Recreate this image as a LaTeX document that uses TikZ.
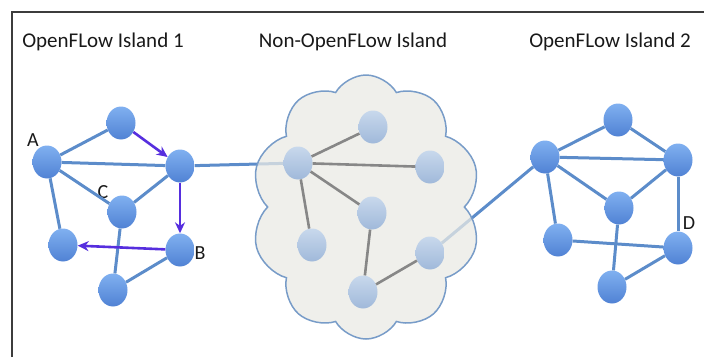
\documentclass[tikz,border=0pt]{standalone}
\usepackage{fontspec}
\setmainfont{Carlito}
\usetikzlibrary{positioning,shapes.geometric,shapes.symbols,arrows.meta}

\definecolor{swtop}{RGB}{128,176,240}
\definecolor{swbot}{RGB}{80,130,212}
\definecolor{cswtop}{RGB}{200,216,236}
\definecolor{cswbot}{RGB}{160,185,218}
\definecolor{linkblue}{RGB}{92,140,202}
\definecolor{linkgray}{RGB}{135,135,135}
\definecolor{flowpurple}{RGB}{86,46,222}
\definecolor{cloudfill}{RGB}{234,234,228}
\definecolor{cloudedge}{RGB}{120,156,200}
\definecolor{framegray}{RGB}{60,60,60}

\pgfdeclarelayer{background}
\pgfsetlayers{background,main}

\begin{document}
\begin{tikzpicture}[x=1pt, y=-1pt,
  switch/.style={ellipse, minimum width=29pt, minimum height=33pt, inner sep=0pt, top color=swtop, bottom color=swbot},
  cswitch/.style={ellipse, minimum width=29pt, minimum height=33pt, inner sep=0pt, top color=cswtop, bottom color=cswbot},
  link/.style={draw=linkblue, line width=3pt},
  glink/.style={draw=linkgray, line width=2.6pt},
  flow/.style={draw=flowpurple, line width=2.6pt, -{Stealth[length=11pt, width=10pt]}},
  title/.style={font=\fontsize{21}{24}\selectfont, text=black!90},
  lbl/.style={font=\fontsize{20}{22}\selectfont, text=black!90, inner sep=0pt}]
\useasboundingbox (0,0) rectangle (704,357);

% frame
\draw[framegray, line width=1.6pt] (12,357) -- (12,12) -- (704,12);

% titles
\node[title] (t1) at (103,42) {OpenFLow Island 1};
\node[title] (t2) at (353,42) {Non-OpenFLow Island};
\node[title] (t3) at (610,42) {OpenFLow Island 2};

% cloud
\node[cloud, cloud puffs=10, cloud puff arc=120, cloud ignores aspect, minimum width=230pt, minimum height=264pt, draw=cloudedge, line width=1.5pt, fill=cloudfill, fill opacity=0.75] (cloud) at (366,207) {};

% island 1
\node[switch] (lA) at (47,162) {};
\node[switch] (lTop) at (121,123) {};
\node[switch] (lRight) at (180,166) {};
\node[switch] (lC) at (122,212) {};
\node[switch] (lLow) at (63,245) {};
\node[switch] (lB) at (180,250) {};
\node[switch] (lBot) at (113,290) {};

% non-openflow island
\node[cswitch] (nHub) at (298,163) {};
\node[cswitch] (nTop) at (373,127) {};
\node[cswitch] (nRight) at (430,167) {};
\node[cswitch] (nMid) at (372,213) {};
\node[cswitch] (nLow) at (312,245) {};
\node[cswitch] (nBot) at (363,292) {};
\node[cswitch] (nExit) at (430,253) {};

% island 2
\node[switch] (rLeft) at (545,157) {};
\node[switch] (rTop) at (618,120) {};
\node[switch] (rRight) at (678,160) {};
\node[switch] (rMid) at (619,208) {};
\node[switch] (rLow) at (558,240) {};
\node[switch] (rD) at (678,248) {};
\node[switch] (rBot) at (612,287) {};

% labels
\node[lbl] (labA) at (33,140) {A};
\node[lbl] (labC) at (103,192) {C};
\node[lbl] (labB) at (200,253) {B};
\node[lbl] (labD) at (689,223) {D};

% links between islands
\begin{pgfonlayer}{background}
\draw[link] (lRight) -- (nHub);
\draw[link] (nExit) -- (rLeft);
\end{pgfonlayer}

% island 1 links
\draw[link] (lA) -- (lTop);
\draw[link] (lA) -- (lRight);
\draw[link] (lA) -- (lC);
\draw[link] (lA) -- (lLow);
\draw[link] (lC) -- (lRight);
\draw[link] (lC) -- (lBot);
\draw[link] (lBot) -- (lB);

% flow path
\draw[flow] (lTop) -- (lRight);
\draw[flow] (lRight) -- (lB);
\draw[flow] (lB) -- (lLow);

% cloud links
\draw[glink] (nHub) -- (nTop);
\draw[glink] (nHub) -- (nRight);
\draw[glink] (nHub) -- (nMid);
\draw[glink] (nHub) -- (nLow);
\draw[glink] (nMid) -- (nBot);
\draw[glink] (nBot) -- (nExit);

% island 2 links
\draw[link] (rLeft) -- (rTop);
\draw[link] (rTop) -- (rRight);
\draw[link] (rLeft) -- (rRight);
\draw[link] (rLeft) -- (rMid);
\draw[link] (rMid) -- (rRight);
\draw[link] (rLeft) -- (rLow);
\draw[link] (rLow) -- (rD);
\draw[link] (rRight) -- (rD);
\draw[link] (rMid) -- (rBot);
\draw[link] (rBot) -- (rD);
\end{tikzpicture}
\end{document}
